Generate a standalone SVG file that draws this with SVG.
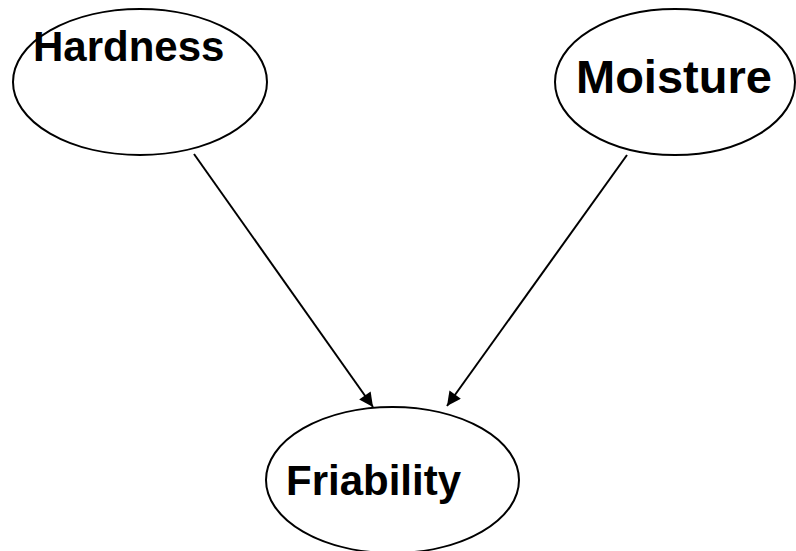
<svg xmlns="http://www.w3.org/2000/svg" width="796" height="551" viewBox="0 0 796 551">
<style>
.node{fill:#fff;stroke:#000;stroke-width:2}
.lbl{font-family:"Liberation Sans",Arial,sans-serif;font-weight:bold;fill:#000}
.edge{stroke:#000;stroke-width:2;fill:none;marker-end:url(#ah)}
</style>
<defs>
<marker id="ah" viewBox="0 0 10 10" refX="10" refY="5" markerWidth="8" markerHeight="7" markerUnits="strokeWidth" orient="auto">
<path d="M0,0 L10,5 L0,10 z" fill="#000"/>
</marker>
</defs>
<rect width="796" height="551" fill="#fff"/>
<g id="node-hardness">
<ellipse class="node" cx="140" cy="82" rx="127" ry="73"/>
<text class="lbl" x="33" y="61" font-size="42">Hardness</text>
</g>
<g id="node-moisture">
<ellipse class="node" cx="675" cy="82" rx="120" ry="73"/>
<text class="lbl" x="576" y="93" font-size="47">Moisture</text>
</g>
<g id="node-friability">
<ellipse class="node" cx="392.5" cy="480" rx="126.5" ry="73"/>
<text class="lbl" x="286" y="495" font-size="42">Friability</text>
</g>
<g id="connectors">
<line class="edge" x1="194" y1="154" x2="373" y2="407"/>
<line class="edge" x1="627" y1="155" x2="447" y2="406"/>
</g>
</svg>
